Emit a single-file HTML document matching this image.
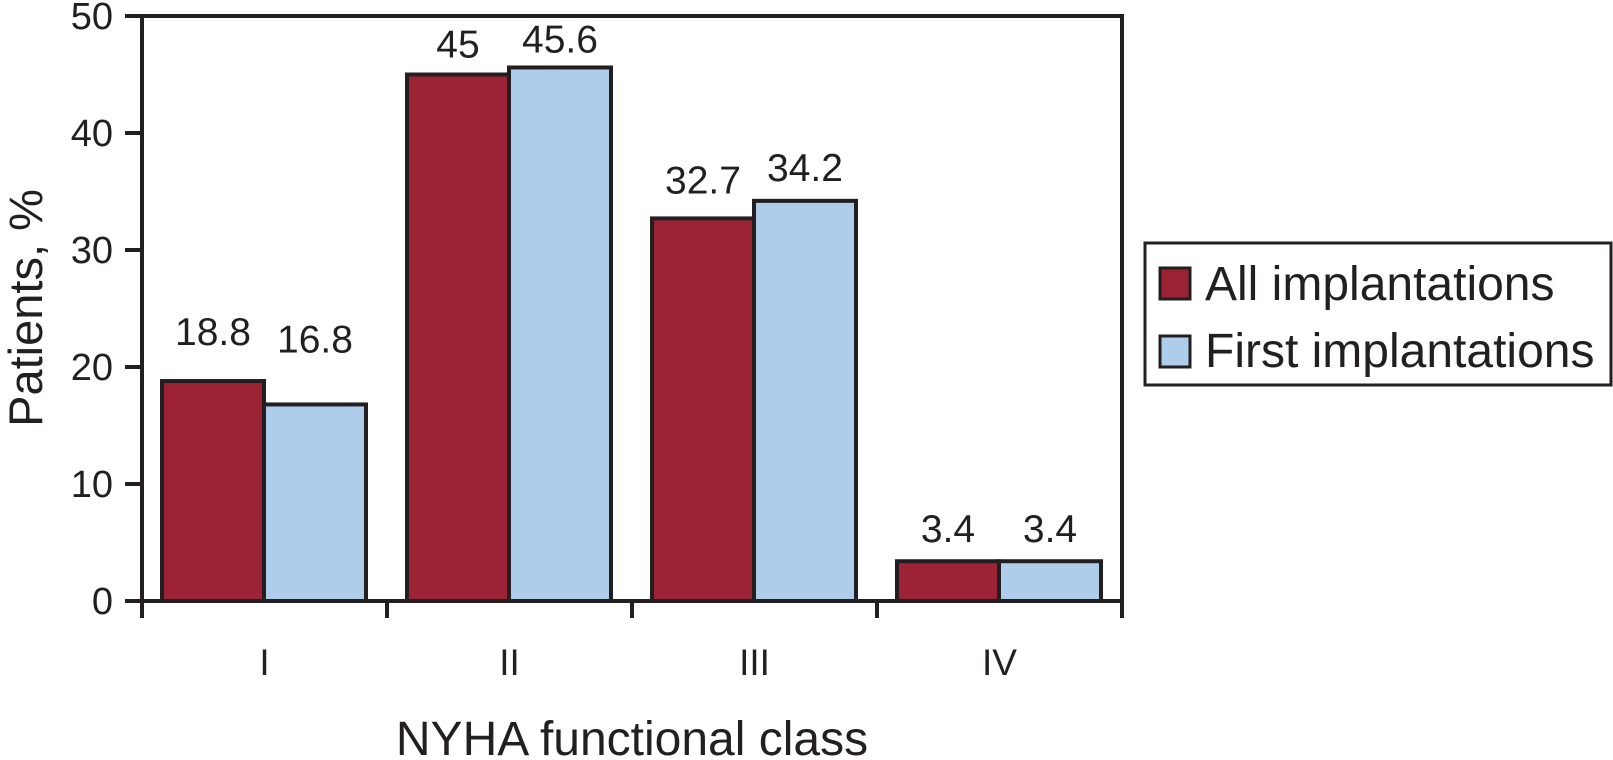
<!DOCTYPE html>
<html><head><meta charset="utf-8"><style>
html,body{margin:0;padding:0;background:#fff;width:1613px;height:760px;overflow:hidden}
svg text{font-family:"Liberation Sans",Arial,sans-serif;fill:#231f20}
</style></head><body>
<svg id="chart" width="1613" height="760" xmlns="http://www.w3.org/2000/svg"></svg>
<script>
const categories = ["I","II","III","IV"];
const seriesNames = ["All implantations","First implantations"];
const allValues = [18.8,45,32.7,3.4];
const firstValues = [16.8,45.6,34.2,3.4];
const allLabels = ["18.8","45","32.7","3.4"];
const firstLabels = ["16.8","45.6","34.2","3.4"];
const yTicks = [0,10,20,30,40,50];

const NS="http://www.w3.org/2000/svg";
const svg=document.getElementById('chart');
const L=142,R=1122,T=16,B=601,yMax=50;
const gw=(R-L)/categories.length;
const y=v=>B-(v/yMax)*(B-T);
const xg=i=>L+i*gw;
const colors=["#9b2335","#aecdeb"];
const allGaps=[36,17,25,19];
const firstGaps=[52,15,20,19];
function mk(tag,a,parent){const e=document.createElementNS(NS,tag);for(const k in a)e.setAttribute(k,a[k]);(parent||svg).appendChild(e);return e;}

[allValues,firstValues].forEach((vals,s)=>{
  const labels=s===0?allLabels:firstLabels;
  const gaps=s===0?allGaps:firstGaps;
  vals.forEach((v,i)=>{
    const x0=xg(i)+20+s*102;
    const r=mk('rect',{x:x0,y:y(v),width:102,height:B-y(v),fill:colors[s],stroke:'#231f20','stroke-width':4});
    
    
    const t=mk('text',{x:x0+51,y:y(v)-gaps[i],'font-size':39,'text-anchor':'middle'});
    t.textContent=labels[i];
    
    
  });
});

const f=mk('path',{d:`M${L},${B} L${L},${T} L${R},${T} L${R},${B} Z`,fill:'none',stroke:'#231f20','stroke-width':4});



yTicks.forEach(v=>{
  const ln=mk('line',{x1:125,x2:L,y1:y(v),y2:y(v),stroke:'#231f20','stroke-width':4});
  
  
  const t=mk('text',{x:113,y:y(v)+13,'font-size':38,'text-anchor':'end'});
  t.textContent=v;
  
  
});
for(let i=0;i<=categories.length;i++){
  const ln=mk('line',{x1:xg(i),x2:xg(i),y1:B,y2:618,stroke:'#231f20','stroke-width':4});
  
  
}
categories.forEach((c,i)=>{
  const t=mk('text',{x:xg(i)+gw/2,y:675,'font-size':37,'text-anchor':'middle'});
  t.textContent=c;
  
  
});
</script>
<svg style="position:absolute;left:0;top:0" width="1613" height="760" xmlns="http://www.w3.org/2000/svg">
<text x="632" y="755" font-size="48" text-anchor="middle">NYHA functional class</text>
<text transform="translate(42,308) rotate(-90)" font-size="47" text-anchor="middle">Patients, %</text>
<g>
<rect x="1145" y="243" width="466" height="142" fill="#fff" stroke="#231f20" stroke-width="3"/>
<rect x="1160" y="268" width="30" height="31" fill="#9b2335" stroke="#231f20" stroke-width="3"/>
<text x="1205" y="300" font-size="48">All implantations</text>
<rect x="1160" y="336" width="30" height="31" fill="#aecdeb" stroke="#231f20" stroke-width="3"/>
<text x="1205" y="367" font-size="48">First implantations</text>
</g>
</svg>
</body></html>
